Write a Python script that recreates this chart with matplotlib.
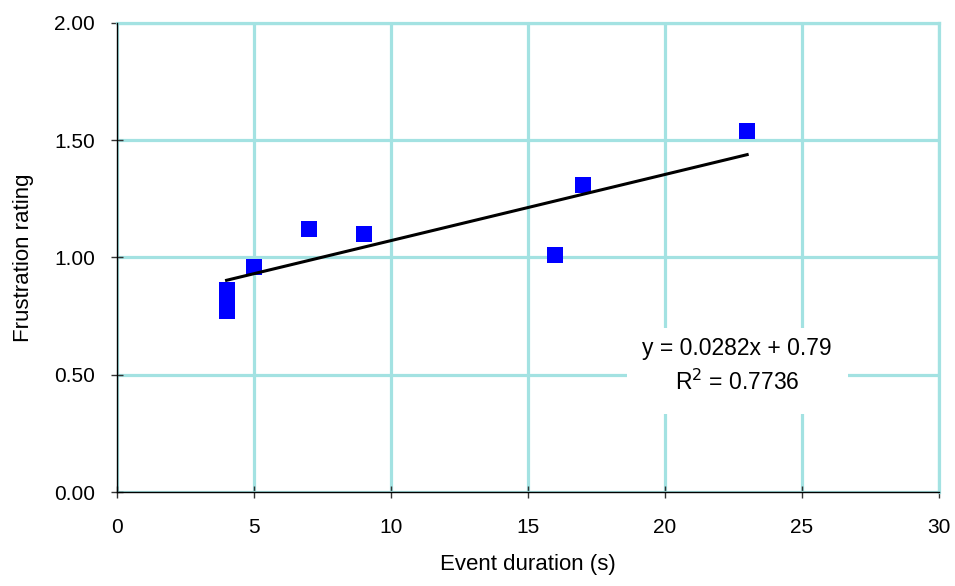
import matplotlib.pyplot as plt
from matplotlib.patches import Rectangle
import numpy as np

plt.rcParams['font.family'] = ['Liberation Sans', 'DejaVu Sans']
plt.rcParams['xtick.labelsize'] = 15
plt.rcParams['ytick.labelsize'] = 15

# data
duration = [4, 4, 4, 4, 5, 7, 9, 16, 17, 23]
rating = [0.86, 0.82, 0.80, 0.77, 0.96, 1.12, 1.10, 1.01, 1.31, 1.54]

# linear trendline as printed on the chart
slope = 0.0282
intercept = 0.79
r_squared = 0.7736

x_ticks = [0, 5, 10, 15, 20, 25, 30]
y_ticks = [0.0, 0.5, 1.0, 1.5, 2.0]

grid_color = '#A3E2E2'

fig = plt.figure(figsize=(9.55, 5.86), dpi=100)
ax = fig.add_axes([0.1225, 0.1604, 0.8607, 0.8004])

ax.set_xlim(0, 30)
ax.set_ylim(0, 2)
ax.set_xticks(x_ticks)
ax.set_yticks(y_ticks)
ax.set_yticklabels(['%.2f' % v for v in y_ticks], fontsize=15)
ax.set_xticklabels([str(v) for v in x_ticks], fontsize=15)

ax.grid(True, color=grid_color, linewidth=2.3, zorder=0)
ax.set_axisbelow(True)
for side in ['top', 'right']:
    ax.spines[side].set_visible(False)
for side in ['left', 'bottom']:
    ax.spines[side].set_color('black')
    ax.spines[side].set_linewidth(1.0)
    ax.spines[side].set_zorder(3)

# top/right edges are cyan gridlines in the original
ax.axhline(2, color=grid_color, linewidth=2.3, zorder=1, clip_on=False)
ax.axvline(30, color=grid_color, linewidth=2.3, zorder=1, clip_on=False)

ax.tick_params(direction='inout', length=8, width=1, color='#333333')
ax.tick_params(axis='x', pad=15)
ax.tick_params(axis='y', pad=12)

ax.plot(duration, rating, 's', color='#0000FF', markersize=11.5,
        markeredgewidth=0, zorder=4, clip_on=False)

xs = np.array([min(duration), max(duration)])
ax.plot(xs, slope * xs + intercept, color='black', linewidth=2.2, zorder=5)

# white box behind the trendline label
ax.add_patch(Rectangle((18.61, 0.333), 8.07, 0.366, facecolor='white',
                       edgecolor='none', zorder=2))
ax.text(22.63, 0.537, 'y = %.4fx + %.2f\nR$^2$ = %.4f' % (slope, intercept, r_squared),
        ha='center', va='center', fontsize=16.5, linespacing=1.5, zorder=6)

ax.set_xlabel('Event duration (s)', fontsize=16, labelpad=12)
ax.set_ylabel('Frustration rating', fontsize=16, labelpad=14)

fig.savefig('out.png', dpi=100)
